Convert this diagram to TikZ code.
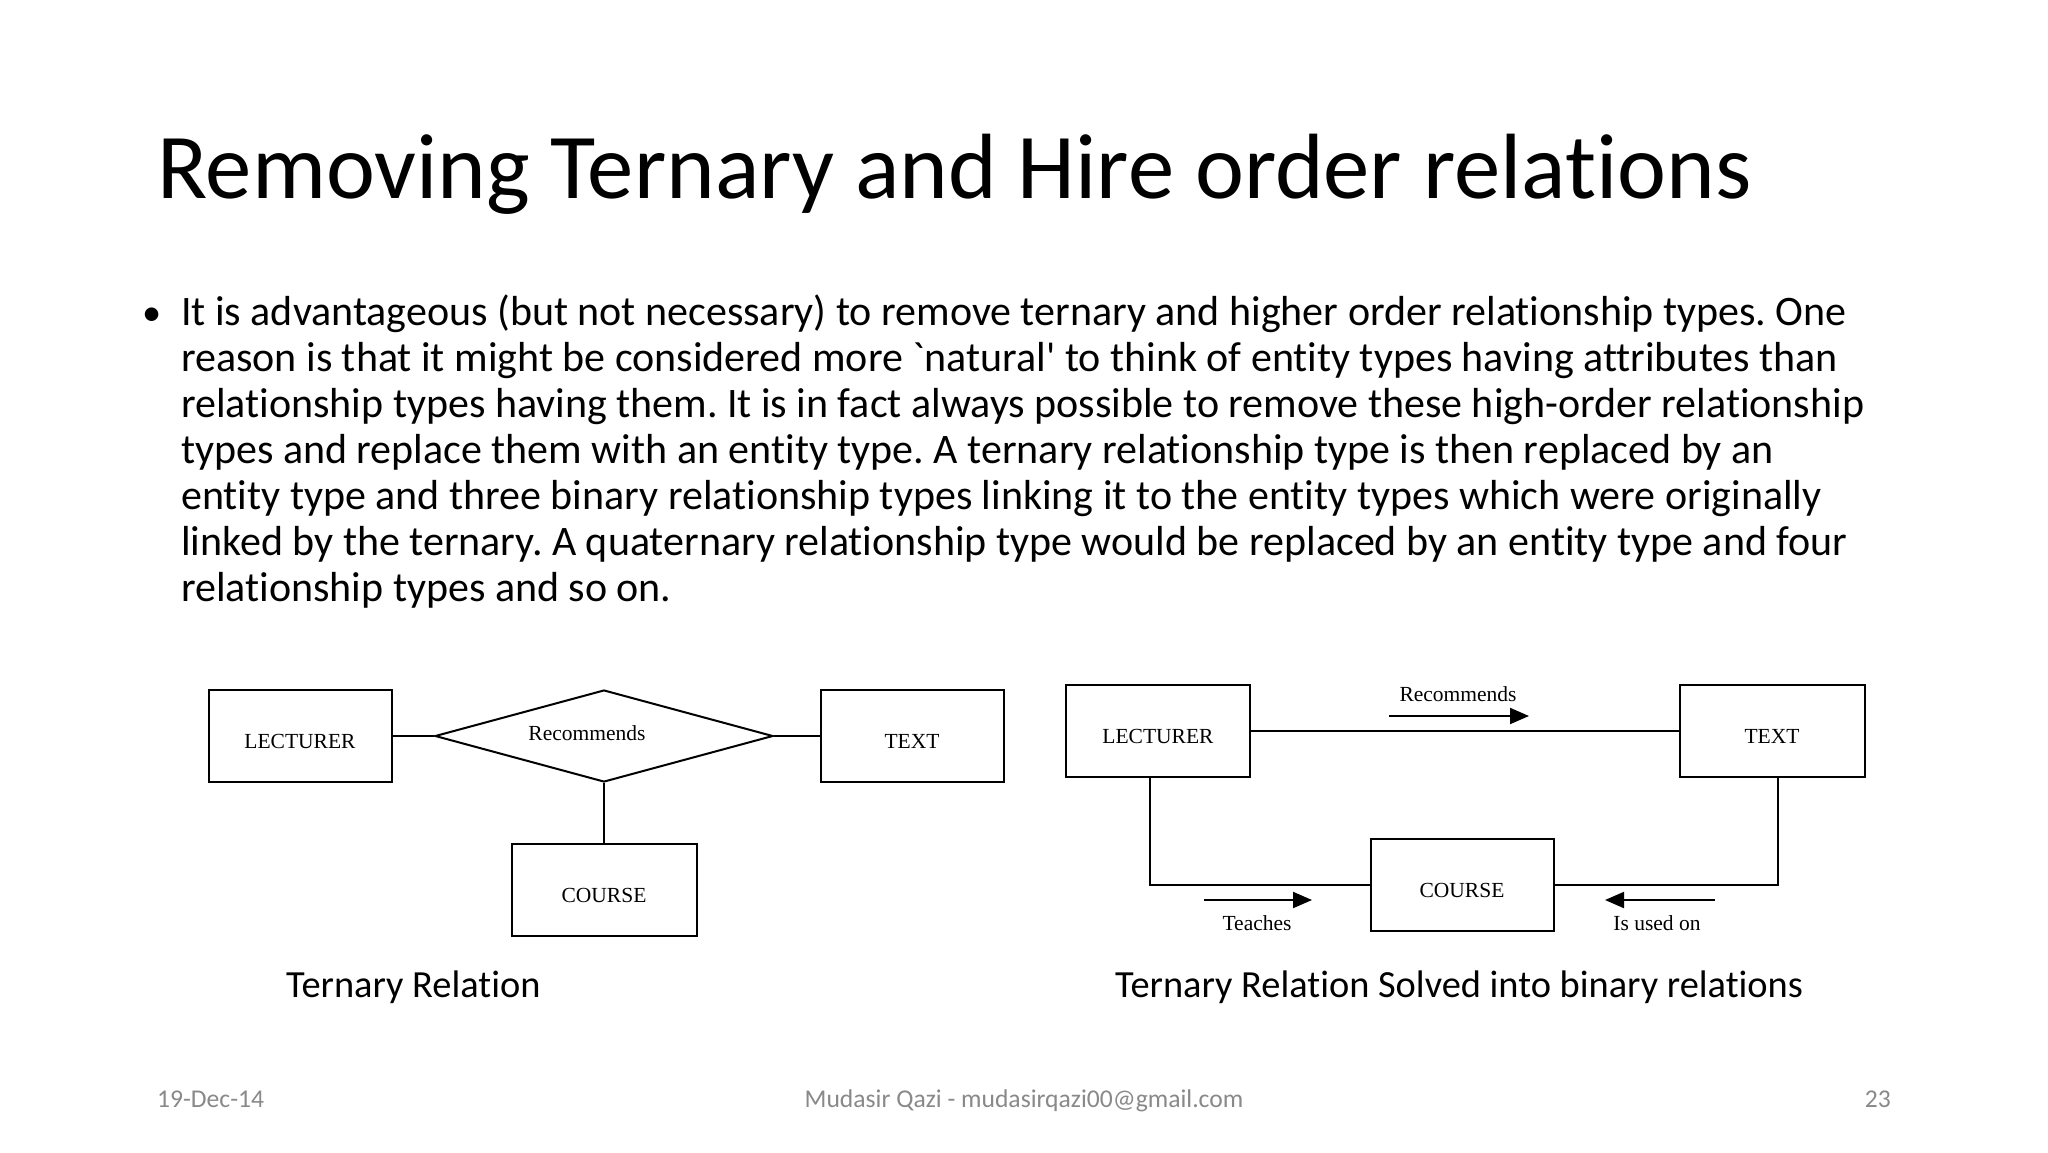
\documentclass[tikz,border=0pt]{standalone}
\usepackage{fontspec}
\setmainfont{Carlito}[Ligatures={NoCommon,TeXOff}]
\newfontfamily\erfont{Liberation Serif}
\usetikzlibrary{shapes.geometric,arrows.meta}
\definecolor{footgray}{HTML}{898989}
\frenchspacing
\tikzset{
  entity/.style={draw=black, line width=2pt, rectangle, minimum width=183pt, minimum height=92pt, inner sep=0pt, text height=24pt, text depth=0pt, font=\erfont\fontsize{21.5}{24}\selectfont},
  relship/.style={draw=black, line width=2pt, diamond, aspect=3.67, minimum width=338pt, minimum height=92pt, inner sep=0pt},
  link/.style={draw=black, line width=2pt},
  dirarrow/.style={draw=black, line width=2pt, -{Triangle[length=19pt,width=16pt]}},
  erlabel/.style={font=\erfont\fontsize{21.5}{24}\selectfont, inner sep=0pt},
  bodyline/.style={anchor=base west, inner sep=0pt, font=\fontsize{42}{46}\selectfont},
  caption/.style={anchor=base west, inner sep=0pt, font=\fontsize{38.4}{44}\selectfont},
  footer/.style={inner sep=0pt, text=footgray, font=\fontsize{25.6}{30}\selectfont}
}
\begin{document}
\begin{tikzpicture}[x=1pt,y=-1pt]
\fill[white] (0,0) rectangle (2048,1152);
\useasboundingbox (0,0) rectangle (2048,1152);

% Title
\node[anchor=base west, inner sep=0pt, font=\fontsize{92.7}{110}\selectfont] (title) at (157,198) {Removing Ternary and Hire order relations};

% Bullet text
\node[anchor=base west, inner sep=0pt, font=\fontsize{38.4}{46}\selectfont] (bullet) at (142,325) {•};
\node[bodyline] (l1) at (181,325) {It is advantageous (but not necessary) to remove ternary and higher order relationship types. One};
\node[bodyline] (l2) at (181,371) {reason is that it might be considered more `natural' to think of entity types having attributes than};
\node[bodyline] (l3) at (181,417) {relationship types having them. It is in fact always possible to remove these high-order relationship};
\node[bodyline] (l4) at (181,463) {types and replace them with an entity type. A ternary relationship type is then replaced by an};
\node[bodyline] (l5) at (181,509) {entity type and three binary relationship types linking it to the entity types which were originally};
\node[bodyline] (l6) at (181,555) {linked by the ternary. A quaternary relationship type would be replaced by an entity type and four};
\node[bodyline] (l7) at (181,601) {relationship types and so on.};

% Left diagram: ternary relation
\node[entity] (lec1) at (300,736) {LECTURER};
\node[relship] (rec1) at (604,736) {};
\node[erlabel] (rec1t) at (587,733) {Recommends};
\node[entity] (txt1) at (912,736) {TEXT};
\node[entity, minimum width=185pt] (crs1) at (604,890) {COURSE};
\draw[link] (lec1.east) -- (rec1.west);
\draw[link] (rec1.east) -- (txt1.west);
\draw[link] (rec1.south) -- (crs1.north);

% Right diagram: binary relations
\node[entity, minimum width=184pt] (lec2) at (1158,731) {LECTURER};
\node[entity, minimum width=185pt] (txt2) at (1772,731) {TEXT};
\node[entity, minimum width=183pt] (crs2) at (1462,885) {COURSE};
\draw[link] (lec2.east) -- (txt2.west);
\draw[link] ([xshift=-8pt]lec2.south) |- (crs2.west);
\draw[link] ([xshift=6pt]txt2.south) |- (crs2.east);

\coordinate (recA) at (1389,716);
\coordinate (recB) at (1529,716);
\draw[dirarrow] (recA) -- (recB);
\node[erlabel] (recL) at (1458,694) {Recommends};

\coordinate (teaA) at (1204,900);
\coordinate (teaB) at (1312,900);
\draw[dirarrow] (teaA) -- (teaB);
\node[erlabel] (teaL) at (1257,923) {Teaches};

\coordinate (useA) at (1715,900);
\coordinate (useB) at (1605,900);
\draw[dirarrow] (useA) -- (useB);
\node[erlabel] (useL) at (1657,923) {Is used on};

% Captions
\node[caption] (cap1) at (286,997) {Ternary Relation};
\node[caption] (cap2) at (1115,997) {Ternary Relation Solved into binary relations};

% Footer
\node[footer, anchor=base west] (date) at (157,1107) {19-Dec-14};
\node[footer, anchor=base] (author) at (1024,1107) {Mudasir Qazi - mudasirqazi00@gmail.com};
\node[footer, anchor=base east] (page) at (1891,1107) {23};
\end{tikzpicture}
\end{document}
